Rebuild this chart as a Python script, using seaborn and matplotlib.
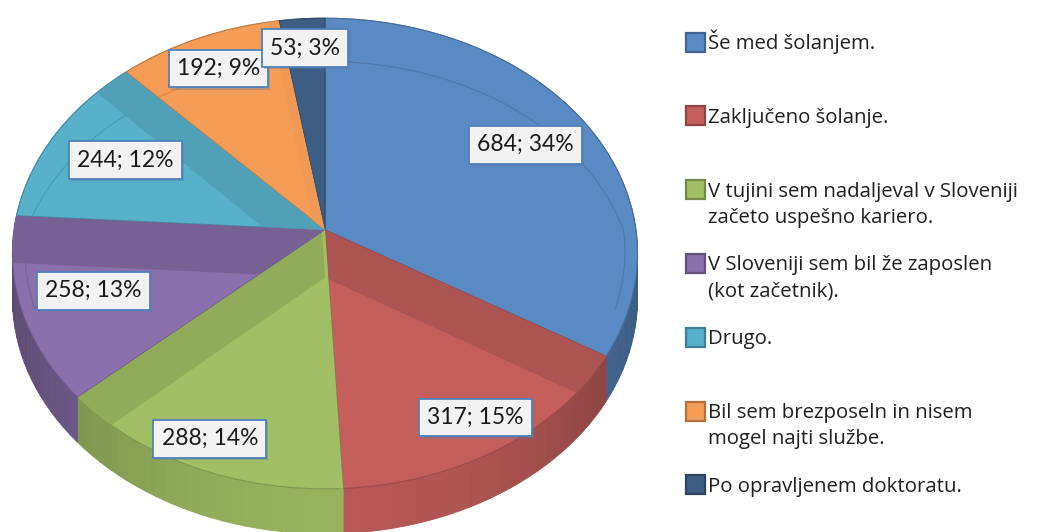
import numpy as np
import matplotlib
matplotlib.use("Agg")
import matplotlib.pyplot as plt
import matplotlib.colors as mcolors
import matplotlib.patheffects as pe
from matplotlib.transforms import Transform
from matplotlib.patches import Polygon, Rectangle
from matplotlib.collections import PolyCollection
import seaborn as sns

# ---------------- data ----------------
categories = [
    "Še med šolanjem.",
    "Zaključeno šolanje.",
    "V tujini sem nadaljeval v Sloveniji\nzačeto uspešno kariero.",
    "V Sloveniji sem bil že zaposlen\n(kot začetnik).",
    "Drugo.",
    "Bil sem brezposeln in nisem\nmogel najti službe.",
    "Po opravljenem doktoratu.",
]
counts = [684, 317, 288, 258, 244, 192, 53]
percent_labels = ["34%", "15%", "14%", "13%", "12%", "9%", "3%"]

# ---------------- style ----------------
top_colors = ["#5A8AC4", "#C45F5C", "#A1BF64", "#8A70AC", "#58B1CA", "#F59D57", "#3E5D85"]
label_radius = [0.77, 0.87, 0.89, 0.77, 0.73, 0.83, 0.85]

sns.set_theme(style="white")
plt.rcParams["font.family"] = ["Lato", "DejaVu Sans"]
palette = sns.color_palette(top_colors)

W, H = 1037, 532
CX, CY, RX, RY, K = 325.0, 230.0, 311.0, 233.0, 0.10
THICK = 45.0


def shade(c, f):
    r, g, b = mcolors.to_rgb(c)
    return (r * f, g * f, b * f)


def proj(u, v):
    w = 1.0 + K * v
    return CX + RX * u / w, CY - RY * v / w


class Perspective(Transform):
    input_dims = 2
    output_dims = 2
    is_separable = False

    def transform_non_affine(self, values):
        values = np.asarray(values, dtype=float)
        x, y = proj(values[..., 0], values[..., 1])
        return np.stack([x, y], axis=-1)


fig = plt.figure(figsize=(W / 100, H / 100), dpi=100)
ax = fig.add_axes([0, 0, 1, 1])
wedges, _ = ax.pie(counts, colors=palette, startangle=90, counterclock=False,
                   radius=1, center=(0, 0), wedgeprops=dict(linewidth=0.8))
ax.set_aspect("auto")
ax.set_xlim(0, W)
ax.set_ylim(H, 0)
ax.axis("off")

persp = Perspective()
ptrans = persp + ax.transData

for w, c in zip(wedges, top_colors):
    w.set_transform(ptrans)
    w.set_edgecolor(shade(c, 0.78))
    w.set_zorder(3)

# side wall of the 3D pie
for w, c in zip(wedges, top_colors):
    n = max(int((w.theta2 - w.theta1) / 2), 2)
    phis = np.deg2rad(np.linspace(w.theta1, w.theta2, n + 1))
    polys, fcs = [], []
    for a, b in zip(phis[:-1], phis[1:]):
        x1, y1 = proj(np.cos(a), np.sin(a))
        x2, y2 = proj(np.cos(b), np.sin(b))
        polys.append([(x1, y1), (x2, y2), (x2, y2 + THICK), (x1, y1 + THICK)])
        m = 0.5 * (a + b)
        fcs.append(shade(c, 0.93 - 0.27 * np.cos(m) ** 2))
    ax.add_collection(PolyCollection(polys, facecolors=fcs, edgecolors=fcs,
                                     linewidths=0.6, zorder=1))

# bevel: inner rim line and darker bands on back-facing radial edges
for w, c in zip(wedges, top_colors):
    t1, t2 = np.deg2rad(w.theta1), np.deg2rad(w.theta2)
    phis = np.linspace(t1, t2, 80)
    s = np.sin(phis)
    r = 1 - (0.04 + 0.18 * np.clip(s, 0, None))
    xs, ys = r * np.cos(phis), r * np.sin(phis)
    xs[s < -0.35] = np.nan
    ln, = ax.plot(xs, ys, transform=ptrans, color=shade(c, 0.88), lw=0.9, zorder=3.5)
    ln.set_clip_path(w)
    for phi, sign in ((t1, 1.0), (t2, -1.0)):
        d = np.array([np.cos(phi), np.sin(phi)])
        inward = sign * np.array([-np.sin(phi), np.cos(phi)])
        nv = -inward[1]
        if nv <= 0.05:
            continue
        bw = 0.2 * nv
        pts = [-0.1 * d, 1.3 * d, 1.3 * d + bw * inward, -0.1 * d + bw * inward]
        band = Polygon(pts, closed=True, facecolor=shade(c, 1 - 0.14 * nv),
                       edgecolor="none", transform=ptrans, zorder=4)
        ax.add_patch(band)
        band.set_clip_path(w)

# data labels
for w, cnt, pct, rr in zip(wedges, counts, percent_labels, label_radius):
    m = np.deg2rad(0.5 * (w.theta1 + w.theta2))
    x, y = proj(rr * np.cos(m), rr * np.sin(m))
    t = ax.text(x, y, f"{cnt}; {pct}", ha="center", va="center", fontsize=16.5,
                color="#1a1a1a", zorder=6,
                bbox=dict(boxstyle="square,pad=0.36", facecolor="#F2F2F2",
                          edgecolor="#4F81BD", linewidth=1.3))
    t.get_bbox_patch().set_path_effects([
        pe.SimplePatchShadow(offset=(1.5, -1.5), shadow_rgbFace="#6078a0", alpha=0.35),
        pe.Normal()])

# legend
LX, LY0, LSTEP, LLINE, SQ = 686, 42, 73.8, 26, 19
for i, (lab, c) in enumerate(zip(categories, top_colors)):
    yc = LY0 + i * LSTEP
    ax.add_patch(Rectangle((LX, yc - SQ / 2), SQ, SQ, facecolor=c,
                           edgecolor=shade(c, 0.72), linewidth=1.6, zorder=6))
    for j, line in enumerate(lab.split("\n")):
        ax.text(LX + SQ + 3, yc + j * LLINE + 7, line, ha="left", va="baseline",
                fontsize=14.7, color="#1f1f1f", zorder=6,
                family=["Open Sans", "DejaVu Sans"])

fig.savefig("out.png", dpi=100)
